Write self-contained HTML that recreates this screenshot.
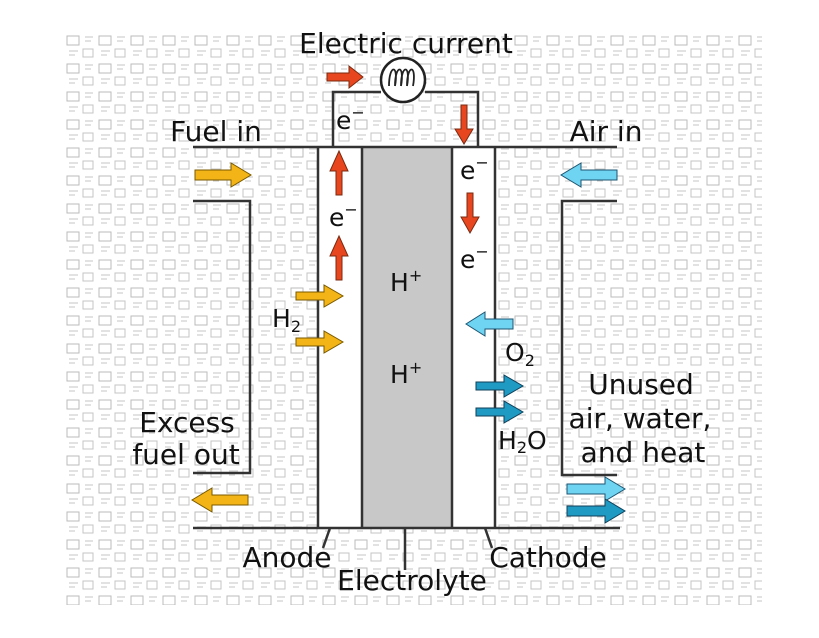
<!DOCTYPE html>
<html><head><meta charset="utf-8"><style>
html,body{margin:0;padding:0;background:#fff;}
svg{display:block;}
text{font-family:"DejaVu Sans","Liberation Sans",sans-serif;fill:#111;}
</style></head><body>
<svg width="819" height="638" viewBox="0 0 819 638" xmlns="http://www.w3.org/2000/svg">
<defs>
<pattern id="bg" x="65" y="33" width="32" height="28" patternUnits="userSpaceOnUse">
<rect x="2" y="3" width="12" height="9" fill="none" stroke="#bbb" stroke-width="1"/>
<rect x="18" y="16" width="10" height="8" fill="none" stroke="#c4c4c4" stroke-width="1"/>
<path d="M20 4h8M20 8h6M4 18h9M4 22h6" stroke="#c4c4c4" stroke-width="1"/>
</pattern>
</defs>
<rect x="65" y="33" width="697" height="572" fill="url(#bg)"/>
<rect x="318" y="147" width="44" height="381" fill="#fff"/>
<rect x="362" y="147" width="90" height="381" fill="#c8c8c8"/>
<rect x="452" y="147" width="43" height="381" fill="#fff"/>
<g stroke="#333" stroke-width="2.5" fill="none">
<path d="M193 147H617"/>
<path d="M193 528H620"/>
<path d="M318 147V528M362 147V528M452 147V528M495 147V528"/>
<path d="M333 147V92H381M425 92H478V147"/>
<path d="M193 201H250V473H193"/>
<path d="M617 201H562V475H617"/>
<path d="M330 528L323 548M405 528V570M485 528L492 548"/>
</g>
<circle cx="403" cy="80" r="22" fill="#fff" stroke="#222" stroke-width="2.5"/>
<path d="M389 86c0-22 10-22 6 0M395 86c0-22 10-22 6 0M401 86c0-22 10-22 6 0M407 86c0-22 10-22 6 0" fill="none" stroke="#222" stroke-width="1.8"/>
<g stroke="#7a2a10" stroke-width="1" fill="#e8461e">
<path d="M327 73h22v-7l14 11-14 11v-7h-22z"/>
<path d="M336 195v-24h-6l9-20 9 20h-6v24z"/>
<path d="M336 280v-24h-6l9-20 9 20h-6v24z"/>
<path d="M461 105v24h-6l9 15 9-15h-6v-24z"/>
<path d="M467 193v24h-6l9 16 9-16h-6v-24z"/>
</g>
<g stroke="#7a5a00" stroke-width="1" fill="#f2b416">
<path d="M195 170h36v-7l20 12-20 12v-7h-36z"/>
<path d="M296 292h28v-7l19 11-19 11v-7h-28z"/>
<path d="M296 338h28v-7l19 11-19 11v-7h-28z"/>
<path d="M248 495h-36v-7l-20 12 20 12v-7h36z"/>
</g>
<g stroke="#1d5570" stroke-width="1" fill="#6fd4f2">
<path d="M617 170h-36v-7l-20 12 20 12v-7h36z"/>
<path d="M513 319h-28v-7l-19 12 19 12v-7h28z"/>
<path d="M567 484h38v-7l20 12-20 12v-7h-38z"/>
</g>
<g stroke="#10405a" stroke-width="1" fill="#1f9ac2">
<path d="M476 382h28v-7l19 11-19 11v-7h-28z"/>
<path d="M476 408h28v-7l19 11-19 11v-7h-28z"/>
<path d="M567 506h38v-7l20 12-20 12v-7h-38z"/>
</g>
<g font-size="28">
<text x="406" y="53" text-anchor="middle">Electric current</text>
<text x="216" y="141" text-anchor="middle">Fuel in</text>
<text x="606" y="141" text-anchor="middle">Air in</text>
<text x="187" y="432" text-anchor="middle">Excess</text>
<text x="186" y="464" text-anchor="middle">fuel out</text>
<text x="641" y="394" text-anchor="middle">Unused</text>
<text x="640" y="428" text-anchor="middle">air, water,</text>
<text x="643" y="462" text-anchor="middle">and heat</text>
<text x="287" y="567" text-anchor="middle">Anode</text>
<text x="548" y="567" text-anchor="middle">Cathode</text>
<text x="412" y="590" text-anchor="middle">Electrolyte</text>
</g>
<g font-size="25">
<text x="336" y="129">e<tspan font-size="16" dy="-11">−</tspan></text>
<text x="329" y="226">e<tspan font-size="16" dy="-11">−</tspan></text>
<text x="460" y="179">e<tspan font-size="16" dy="-11">−</tspan></text>
<text x="460" y="268">e<tspan font-size="16" dy="-11">−</tspan></text>
<text x="390" y="291">H<tspan font-size="16" dy="-10">+</tspan></text>
<text x="390" y="383">H<tspan font-size="16" dy="-10">+</tspan></text>
<text x="272" y="327">H<tspan font-size="16" dy="5">2</tspan></text>
<text x="505" y="361">O<tspan font-size="16" dy="5">2</tspan></text>
<text x="498" y="449">H<tspan font-size="16" dy="4">2</tspan><tspan dy="-4">O</tspan></text>
</g>
</svg>
</body></html>
